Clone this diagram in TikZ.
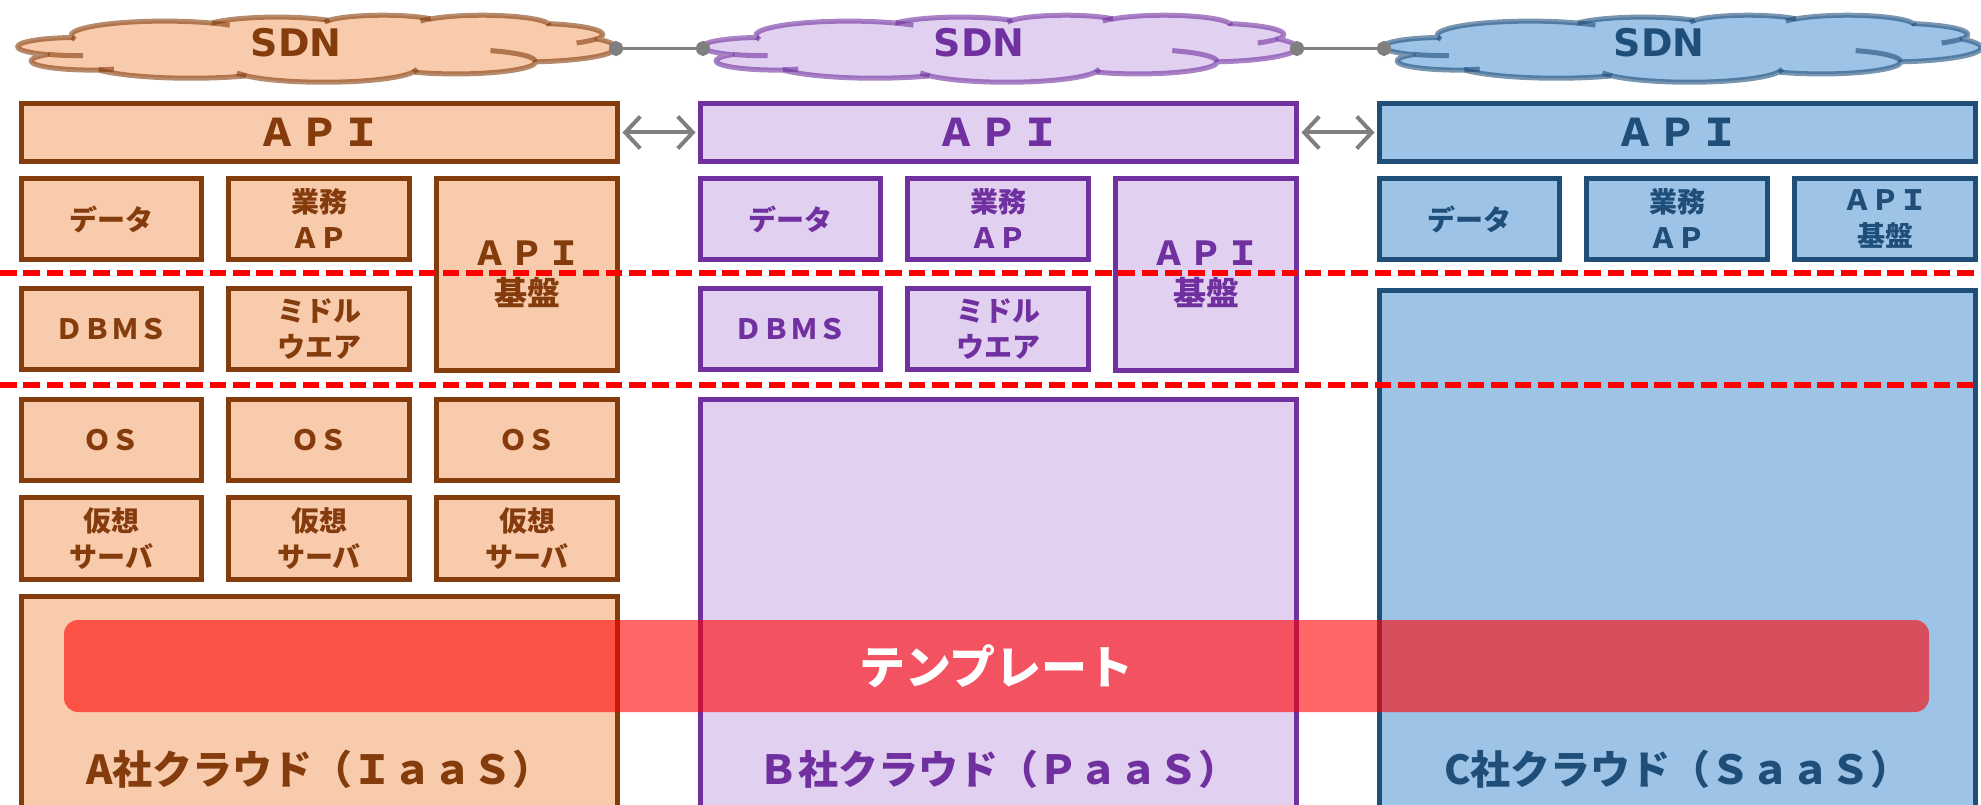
\documentclass[tikz,border=0pt]{standalone}
\usepackage{fontspec}
\usetikzlibrary{arrows.meta}
\newfontfamily\jp{Noto Sans CJK JP}
\newfontfamily\sdnfont{DejaVu Sans}

\definecolor{aFill}{HTML}{F8CBAD}
\definecolor{aLine}{HTML}{843C0C}
\definecolor{bFill}{HTML}{E1D0F0}
\definecolor{bLine}{HTML}{7030A0}
\definecolor{cFill}{HTML}{9DC3E6}
\definecolor{cLine}{HTML}{1F4E79}
\definecolor{linkGray}{HTML}{7F7F7F}

% Elliptical arc given by radii, start angle and sweep as true (not parametric) angles
\newcommand\ooangles[4]{%
  \pgfmathparse{atan2((#1)*sin(#3),(#2)*cos(#3))}\xdef\ooS{\pgfmathresult}%
  \pgfmathparse{atan2((#1)*sin((#3)+(#4)),(#2)*cos((#3)+(#4)))}\xdef\ooE{\pgfmathresult}%
  \pgfmathparse{mod(\ooE-(\ooS)+720,360)}\xdef\ooD{\pgfmathresult}}
\newcommand\ooarc[4]{\pgfextra{\ooangles{#1}{#2}{#3}{#4}} arc[start angle=\ooS, delta angle=\ooD, x radius=#1, y radius=#2]}

% Cloud outline in a 432 x 432 box
\newcommand\cloudoutline{(39.00,143.70)
  \ooarc{67.53}{91.90}{-190.4875}{123.7805}
  \ooarc{53.33}{72.67}{-144.1024}{89.9452}
  \ooarc{43.65}{59.45}{-145.8079}{99.7230}
  \ooarc{48.57}{65.95}{-130.9861}{117.2417}
  \ooarc{53.33}{72.73}{-78.7089}{109.0269}
  \ooarc{67.75}{92.20}{-46.2673}{130.2690}
  \ooarc{57.85}{78.67}{0.6250}{114.0333}
  \ooarc{67.52}{92.15}{22.4516}{115.1726}
  \ooarc{77.20}{105.43}{66.2426}{75.7110}
  \ooarc{43.60}{59.18}{-274.9421}{146.7356}
  \ooarc{43.45}{59.45}{-246.8285}{152.5189} -- cycle}
% Short inner strokes of the cloud
\newcommand\cloudcreases{%
  (46.93,261.77) \ooarc{43.45}{59.45}{86.7420}{26.4295}
  (69.28,348.99) \ooarc{43.60}{59.18}{73.6105}{11.4475}
  (164.78,390.90) \ooarc{67.52}{92.15}{137.6242}{14.0811}
  (288.27,347.51) \ooarc{67.52}{92.15}{6.4533}{15.9984}
  (341.29,229.54) \ooarc{57.85}{78.67}{-70.2924}{70.9174}
  (417.98,153.54) \ooarc{53.33}{72.73}{30.3180}{27.7515}
  (383.24,54.26) \ooarc{48.57}{65.95}{-13.7443}{14.8589}
  (290.78,39.52) \ooarc{48.57}{65.95}{-149.1815}{18.1954}
  (221.41,47.20) \ooarc{43.65}{59.45}{-163.4943}{17.6864}
  (140.00,51.92) \ooarc{67.53}{91.90}{-66.7070}{12.3194}
  (41.27,157.89) \ooarc{67.53}{91.90}{157.6544}{11.8582}}

% left, top, width, height, fill colour, line colour
\newcommand\sdncloud[6]{%
  \begin{scope}[shift={(#1,#2)}, x=1pt, y=1pt, xscale=#3/432, yscale=-#4/432]
    \path[fill=#5] \cloudoutline;
    \draw[cloudline=#6] \cloudoutline;
    \draw[cloudline=#6] \cloudcreases;
  \end{scope}}

% style, name, x1, y1, x2, y2 (outer edges), text
\newcommand\cell[7]{\node[box,#1,minimum width={(#5)-(#3)-5}, minimum height={(#6)-(#4)-5}] (#2) at ({((#3)+(#5))/2},{((#4)+(#6))/2}) {#7};}

\tikzset{
  box/.style={draw, line width=5pt, inner sep=0pt, align=center,
    font=\jp\bfseries\fontsize{28}{36}\selectfont},
  colA/.style={fill=aFill, draw=aLine, text=aLine},
  colB/.style={fill=bFill, draw=bLine, text=bLine},
  colC/.style={fill=cFill, draw=cLine, text=cLine},
  hdr/.style={font=\jp\bfseries\fontsize{38}{44}\selectfont},
  tallbox/.style={font=\jp\bfseries\fontsize{33}{40}\selectfont},
  cloudline/.style={draw=#1, draw opacity=0.6, line width=5pt, line join=round},
  sdn/.style={font=\sdnfont\bfseries\fontsize{38}{44}\selectfont, inner sep=0pt},
  link/.style={draw=linkGray, line width=3pt,
    arrows={Circle[length=14pt,width=15pt]-Circle[length=14pt,width=15pt]},
    shorten <=-7pt, shorten >=-7pt},
  apiarrow/.style={draw=linkGray, line width=4pt,
    arrows={Straight Barb[length=15pt,width=32pt]-Straight Barb[length=15pt,width=32pt]},
    shorten <=2.5pt, shorten >=2.5pt},
  cut/.style={draw=red, line width=5.5pt, dash pattern=on 16.5pt off 6.8pt},
  lbl/.style={font=\jp\bfseries\fontsize{40}{46}\selectfont, inner sep=0pt},
  tmpl/.style={fill=red, fill opacity=0.6, text opacity=1, text=white,
    rounded corners=14pt, inner sep=0pt, font=\jp\bfseries\fontsize{46}{50}\selectfont}
}

\begin{document}
\begin{tikzpicture}[x=1pt, y=-1pt]
\useasboundingbox (0,0) rectangle (1981,805);
\clip (0,0) rectangle (1981,805);

% SDN clouds and their links
\sdncloud{18}{15}{598}{67}{aFill}{aLine}
\sdncloud{703}{15}{594}{67}{bFill}{bLine}
\sdncloud{1384}{15}{597}{67}{cFill}{cLine}
\node[sdn, text=aLine] (aSdn) at (296,42.5) {SDN};
\node[sdn, text=bLine] (bSdn) at (979,42.5) {SDN};
\node[sdn, text=cLine] (cSdn) at (1659,42.5) {SDN};
\coordinate (aCloudE) at (616,48.5);
\coordinate (bCloudW) at (703,48.5);
\coordinate (bCloudE) at (1297,48.5);
\coordinate (cCloudW) at (1384,48.5);
\draw[link] (aCloudE) -- (bCloudW);
\draw[link] (bCloudE) -- (cCloudW);

% Cloud A (IaaS)
\cell{colA,hdr}{aApi}{19}{101}{620}{164}{Ａ\kern4ptＰ\kern4ptＩ}
\cell{colA}{aData}{19}{176}{204}{262}{データ}
\cell{colA}{aBiz}{226}{176}{412}{262}{業務\\ＡＰ}
\cell{colA,tallbox}{aBase}{434}{176}{620}{373}{Ａ\kern4ptＰ\kern4ptＩ\\基盤}
\cell{colA}{aDb}{19}{286}{204}{372}{ＤＢＭＳ}
\cell{colA}{aMid}{226}{286}{412}{372}{ミドル\\ウエア}
\cell{colA}{aOs1}{19}{397}{204}{483}{ＯＳ}
\cell{colA}{aOs2}{226}{397}{412}{483}{ＯＳ}
\cell{colA}{aOs3}{434}{397}{620}{483}{ＯＳ}
\cell{colA}{aVm1}{19}{495}{204}{582}{仮想\\サーバ}
\cell{colA}{aVm2}{226}{495}{412}{582}{仮想\\サーバ}
\cell{colA}{aVm3}{434}{495}{620}{582}{仮想\\サーバ}
\cell{colA}{aBody}{19}{594}{620}{840}{}
\node[lbl, text=aLine] (aName) at (319.5,769) {A社クラウド（ＩａａＳ）};

% Cloud B (PaaS)
\cell{colB,hdr}{bApi}{698}{101}{1299}{164}{Ａ\kern4ptＰ\kern4ptＩ}
\cell{colB}{bData}{698}{176}{883}{262}{データ}
\cell{colB}{bBiz}{905}{176}{1091}{262}{業務\\ＡＰ}
\cell{colB,tallbox}{bBase}{1113}{176}{1299}{373}{Ａ\kern4ptＰ\kern4ptＩ\\基盤}
\cell{colB}{bDb}{698}{286}{883}{372}{ＤＢＭＳ}
\cell{colB}{bMid}{905}{286}{1091}{372}{ミドル\\ウエア}
\cell{colB}{bBody}{698}{397}{1299}{840}{}
\node[lbl, text=bLine] (bName) at (998.5,769) {Ｂ社クラウド（ＰａａＳ）};

% Cloud C (SaaS)
\cell{colC,hdr}{cApi}{1377}{101}{1978}{164}{Ａ\kern4ptＰ\kern4ptＩ}
\cell{colC}{cData}{1377}{176}{1562}{262}{データ}
\cell{colC}{cBiz}{1584}{176}{1770}{262}{業務\\ＡＰ}
\cell{colC}{cBase}{1792}{176}{1978}{262}{ＡＰＩ\\基盤}
\cell{colC}{cBody}{1377}{288}{1978}{840}{}
\node[lbl, text=cLine] (cName) at (1677.5,769) {C社クラウド（ＳａａＳ）};

% API links
\draw[apiarrow] (aApi.east) -- (bApi.west);
\draw[apiarrow] (bApi.east) -- (cApi.west);

% Responsibility boundaries
\coordinate (cutHiW) at (0,273);
\coordinate (cutHiE) at (1981,273);
\coordinate (cutLoW) at (0,385);
\coordinate (cutLoE) at (1981,385);
\draw[cut] (cutHiW) -- (cutHiE);
\draw[cut] (cutLoW) -- (cutLoE);

% Template band across all clouds
\node[tmpl, minimum width=1865pt, minimum height=92pt] (tmpl) at (996.5,666) {テンプレート};
\end{tikzpicture}
\end{document}
